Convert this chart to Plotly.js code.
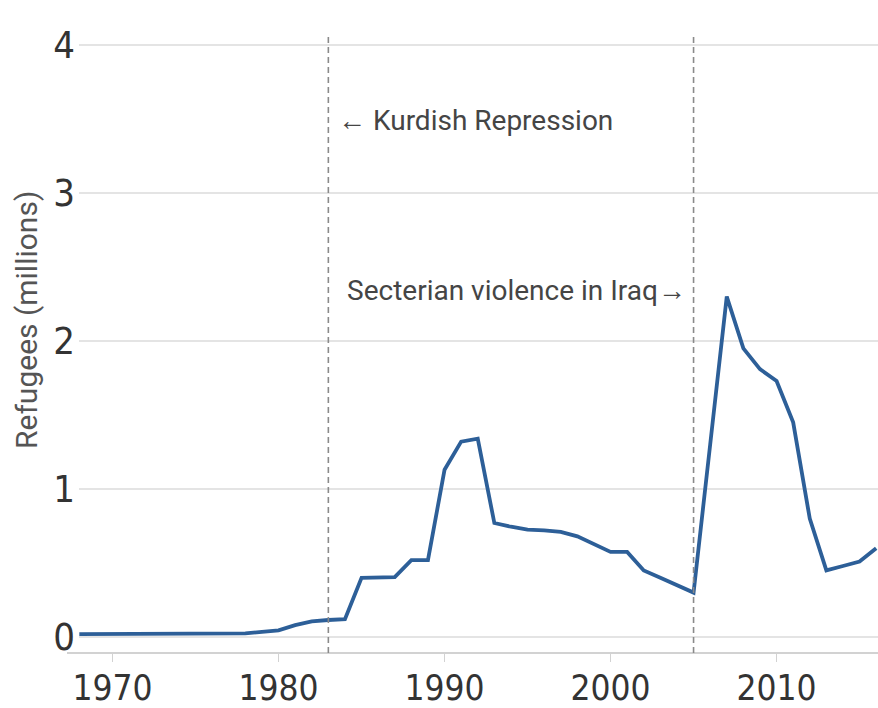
<!DOCTYPE html>
<html>
<head>
<meta charset="utf-8">
<script src="https://cdn.plot.ly/plotly-3.0.1.min.js"></script>
<style>
  html, body { margin: 0; padding: 0; background: #ffffff; }
  #chart { width: 878px; height: 708px; }
</style>
</head>
<body>
<div id="chart"></div>
<script>
// ---- data ----
const years = [1968, 1969, 1970, 1971, 1972, 1973, 1974, 1975, 1976, 1977,
               1978, 1979, 1980, 1981, 1982, 1983, 1984, 1985, 1986, 1987,
               1988, 1989, 1990, 1991, 1992, 1993, 1994, 1995, 1996, 1997,
               1998, 1999, 2000, 2001, 2002, 2003, 2004, 2005, 2006, 2007,
               2008, 2009, 2010, 2011, 2012, 2013, 2014, 2015, 2016];
const refugeesMillions = [0.02, 0.02, 0.02, 0.02, 0.02, 0.02, 0.02, 0.02, 0.02, 0.02,
                          0.025, 0.035, 0.045, 0.08, 0.105, 0.115, 0.12, 0.40, 0.405, 0.405,
                          0.52, 0.52, 1.13, 1.32, 1.34, 0.77, 0.745, 0.725, 0.72, 0.71,
                          0.68, 0.625, 0.575, 0.575, 0.45, 0.40, 0.35, 0.30, 1.30, 2.30,
                          1.95, 1.81, 1.73, 1.45, 0.80, 0.45, 0.48, 0.51, 0.60];
const xTickVals = [1970, 1980, 1990, 2000, 2010];
const xTickText = ["1970", "1980", "1990", "2000", "2010"];
const yTickVals = [0, 1, 2, 3, 4];
const yTickText = ["0", "1", "2", "3", "4"];
const eventYears = [1983, 2005];
const eventLabels = ["\u2190 Kurdish Repression", "Secterian violence in Iraq\u2192"];
const yTitle = "Refugees (millions)";

// ---- styling ----
const tickFamily = "'Liberation Sans Narrow', 'DejaVu Sans Condensed', 'Liberation Sans', sans-serif";
const annFont = { family: "Roboto, 'Open Sans', sans-serif", size: 28, color: "#454545" };

const trace = {
  x: years,
  y: refugeesMillions,
  type: "scatter",
  mode: "lines",
  line: { color: "#2d5f98", width: 3.8 },
  hoverinfo: "x+y",
  showlegend: false
};

const shapes = eventYears.map(yr => ({
  type: "line", xref: "x", yref: "paper",
  x0: yr, x1: yr, y0: 0, y1: 0.995,
  line: { color: "#8a8a8a", width: 1.6, dash: "6px,4px" },
  layer: "above"
}));
// bottom axis line (extends slightly left of the plot area like the original)
shapes.push({
  type: "line", xref: "paper", yref: "paper",
  x0: -0.015, x1: 1, y0: 0, y1: 0,
  line: { color: "#d2d2d2", width: 2 },
  layer: "below"
});

const annotations = [
  { x: eventYears[0], y: 3.49, xref: "x", yref: "y", text: eventLabels[0],
    showarrow: false, xanchor: "left", yanchor: "middle", xshift: 8, font: annFont },
  { x: eventYears[1], y: 2.34, xref: "x", yref: "y", text: eventLabels[1],
    showarrow: false, xanchor: "right", yanchor: "middle", xshift: -6, font: annFont },
  // y-axis title (placed like the original, a little above the plot's middle)
  { x: -0.066, y: 0.535, xref: "paper", yref: "paper", text: yTitle, textangle: -90,
    showarrow: false, xanchor: "center", yanchor: "middle",
    font: { family: "Roboto, 'Open Sans', sans-serif", size: 30, color: "#555555" } }
];

const layout = {
  width: 878, height: 708,
  margin: { l: 79, r: 0, t: 30, b: 55, pad: 0 },
  paper_bgcolor: "#ffffff",
  plot_bgcolor: "#ffffff",
  showlegend: false,
  xaxis: {
    range: [1967.98, 2016.11],
    tickvals: xTickVals, ticktext: xTickText,
    ticks: "outside", ticklen: 8, tickwidth: 1.5, tickcolor: "#d2d2d2",
    showgrid: false, zeroline: false, showline: false,
    tickfont: { family: tickFamily, size: 35, color: "#333333" },
    ticklabelstandoff: -4,
    fixedrange: true
  },
  yaxis: {
    range: [-0.108, 4.101],
    tickvals: yTickVals, ticktext: yTickText,
    ticks: "", showgrid: true, gridcolor: "#e4e4e4", gridwidth: 1.5,
    zeroline: false, showline: false,
    tickfont: { family: tickFamily, size: 38, color: "#333333" },
    ticklabelstandoff: 3,
    automargin: false,
    fixedrange: true
  },
  shapes: shapes,
  annotations: annotations
};

Plotly.newPlot("chart", [trace], layout, { displayModeBar: false, staticPlot: true });
</script>
</body>
</html>
